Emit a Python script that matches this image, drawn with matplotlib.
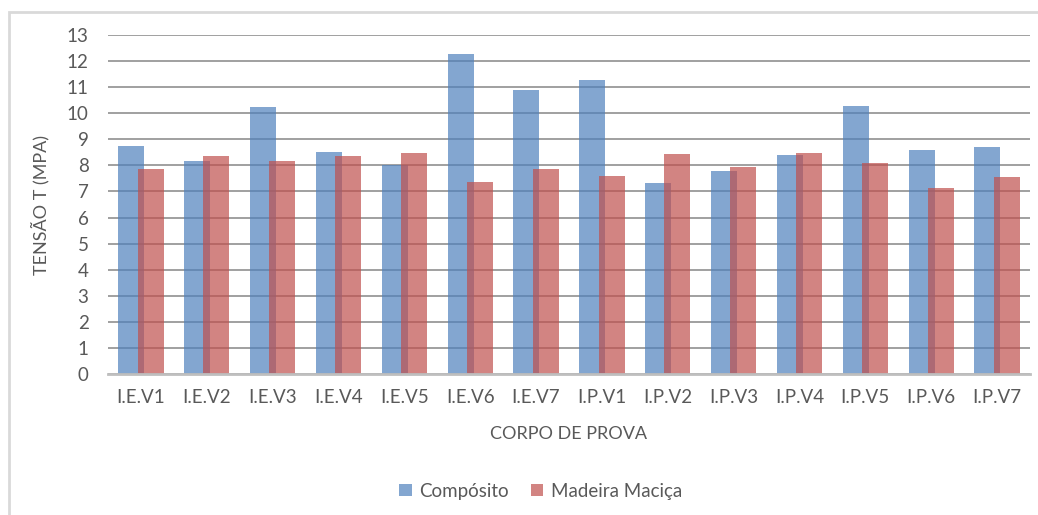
import numpy as np
import matplotlib.pyplot as plt
from matplotlib.patches import Rectangle

plt.rcParams['font.family'] = ['Lato', 'DejaVu Sans']

corpos = ["I.E.V1", "I.E.V2", "I.E.V3", "I.E.V4", "I.E.V5", "I.E.V6", "I.E.V7",
          "I.P.V1", "I.P.V2", "I.P.V3", "I.P.V4", "I.P.V5", "I.P.V6", "I.P.V7"]
composito = [8.73, 8.18, 10.23, 8.51, 8.00, 12.28, 10.90,
             11.28, 7.31, 7.77, 8.40, 10.27, 8.60, 8.69]
madeira = [7.85, 8.35, 8.18, 8.35, 8.47, 7.35, 7.88,
           7.60, 8.43, 7.94, 8.47, 8.09, 7.14, 7.55]

txt = "#595959"
azul = "#4F81BD"
verm = "#C0504D"

fig = plt.figure(figsize=(10.38, 5.15), dpi=100)
ax = fig.add_axes([0.104, 0.2738, 0.8883, 0.6582])

# moldura do grafico
fig.patches.append(Rectangle((0.0085, -0.05), 1.2, 1.0267, transform=fig.transFigure,
                             fill=False, edgecolor="#d9d9d9", linewidth=2))

x = np.arange(len(corpos))
w = 0.395
off = 0.293
ax.bar(x - off / 2, composito, w, color=azul, alpha=0.7, zorder=2, label="Compósito")
ax.bar(x + off / 2, madeira, w, color=verm, alpha=0.7, zorder=3, label="Madeira Maciça")

ax.set_xlim(-0.5, len(corpos) - 0.5)
ax.set_ylim(0, 13)
ax.set_yticks(range(0, 14))
ax.set_xticks(x)
ax.set_xticklabels(corpos)
ax.yaxis.grid(True, color="#868686", linewidth=1.1, zorder=1)
ax.set_axisbelow(True)
for s in ["top", "right", "left"]:
    ax.spines[s].set_visible(False)
ax.spines["bottom"].set_color("#bfbfbf")
ax.spines["bottom"].set_linewidth(2)
ax.spines["bottom"].set_zorder(4)
ax.tick_params(axis="both", length=0, labelsize=13.5, colors=txt)
ax.tick_params(axis="x", pad=11)
ax.tick_params(axis="y", pad=14)

ax.set_xlabel("CORPO DE PROVA", fontsize=13, color=txt, labelpad=14)
ax.set_ylabel("TENSÃO T (MPA)", fontsize=13, color=txt, labelpad=12)

leg = fig.legend(loc="center", bbox_to_anchor=(0.521, 0.046), ncol=2, frameon=False,
                 fontsize=13.5, handlelength=0.65, handleheight=0.65, handletextpad=0.4,
                 columnspacing=1.2)
for t in leg.get_texts():
    t.set_color(txt)

fig.savefig("out.png", dpi=100, facecolor="white")
